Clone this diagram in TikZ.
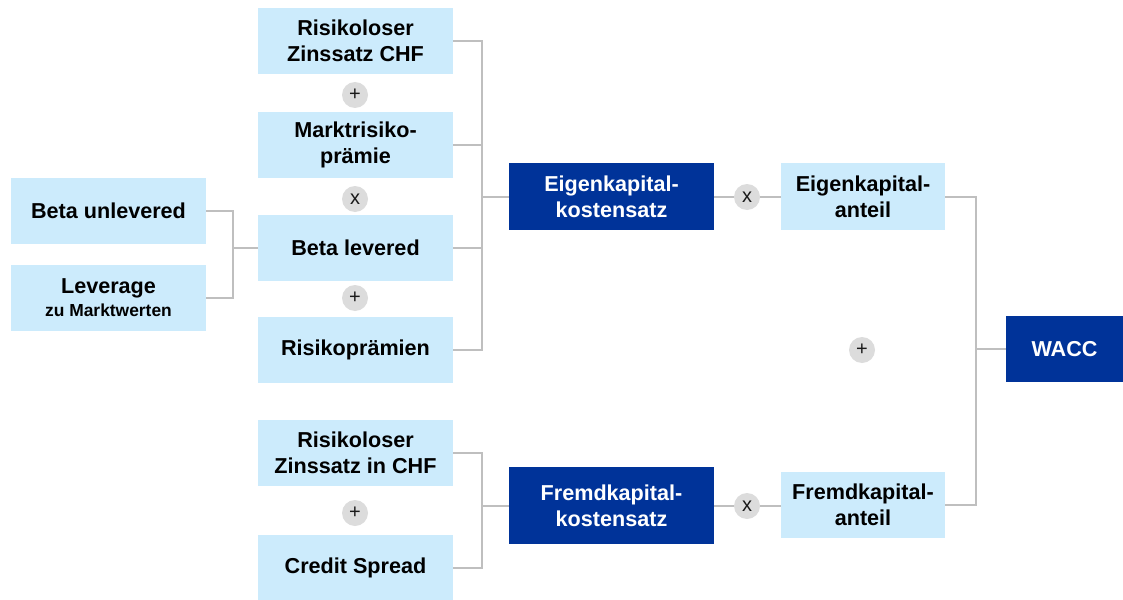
\documentclass[tikz,border=0pt]{standalone}
\usepackage{fontspec}
\setmainfont{Liberation Sans}
\definecolor{lblue}{HTML}{CCEBFC}
\definecolor{dblue}{HTML}{003399}
\definecolor{lgray}{HTML}{BFBFBF}
\definecolor{cgray}{HTML}{DCDCDC}
\begin{document}
\begin{tikzpicture}[x=1pt,y=-1pt,
  lbox/.style={fill=lblue, inner sep=0pt, align=center, text=black,
    font=\fontsize{21.6}{26}\selectfont\bfseries},
  dbox/.style={fill=dblue, inner sep=0pt, align=center, text=white,
    font=\fontsize{21.6}{26}\selectfont\bfseries},
  opc/.style={circle, fill=cgray, minimum size=26pt, inner sep=0pt,
    font=\fontsize{20}{20}\selectfont, text=black!90,
    text height=10.4pt, text depth=0pt},
  conn/.style={draw=lgray, line width=2pt}]
\useasboundingbox (0,0) rectangle (1123,599);
% left column
\node[lbox, minimum width=195pt, minimum height=66pt] (bu) at (108.5,211) {Beta unlevered};
\node[lbox, minimum width=195pt, minimum height=66pt] (lev) at (108.5,298) {Leverage\\[-3pt]{\fontsize{17.4}{20}\selectfont zu Marktwerten}};
% second column
\node[lbox, minimum width=195pt, minimum height=66pt] (rz) at (355.5,41) {Risikoloser\\Zinssatz CHF};
\node[lbox, minimum width=195pt, minimum height=66pt] (mr) at (355.5,145) {Marktrisiko-\\prämie};
\node[lbox, minimum width=195pt, minimum height=66pt] (bl) at (355.5,248) {Beta levered};
\node[lbox, minimum width=195pt, minimum height=66pt] (rp) at (355.5,350) {Risikoprämien};
\node[lbox, minimum width=195pt, minimum height=66pt] (rzf) at (355.5,453) {Risikoloser\\Zinssatz in CHF};
\node[lbox, minimum width=195pt, minimum height=66pt] (cs) at (355.5,568) {Credit Spread};
% operators column 2
\node[opc] (o1) at (355,95) {+};
\node[opc] (o2) at (355,199) {x};
\node[opc] (o3) at (355,298) {+};
\node[opc] (o4) at (355,513) {+};
% third column
\node[dbox, minimum width=205pt, minimum height=67pt] (ek) at (611.5,196.5) {Eigenkapital-\\kostensatz};
\node[dbox, minimum width=205pt, minimum height=77pt] (fk) at (611.5,505.5) {Fremdkapital-\\kostensatz};
\node[opc] (o5) at (747,197) {x};
\node[opc] (o6) at (747,506) {x};
% fourth column
\node[lbox, minimum width=164pt, minimum height=67pt] (eka) at (863,196.5) {Eigenkapital-\\anteil};
\node[lbox, minimum width=164pt, minimum height=66pt] (fka) at (863,505) {Fremdkapital-\\anteil};
\node[opc] (o7) at (862,350) {+};
% WACC
\node[dbox, minimum width=117pt, minimum height=66pt] (wacc) at (1064.5,349) {WACC};
% junctions
\coordinate (j1) at (233,248);
\coordinate (j2) at (482,196.5);
\coordinate (j3) at (482,505.5);
\coordinate (j4) at (976,349);
% connectors
\draw[conn] (bu.east) -| (j1) |- (lev.east);
\draw[conn] (j1) -- (bl.west);
\draw[conn] (rz.east) -| (j2) |- (rp.east);
\draw[conn] (mr.east) -| (j2);
\draw[conn] (bl.east) -| (j2);
\draw[conn] (j2) -- (ek.west);
\draw[conn] (rzf.east) -| (j3) |- (cs.east);
\draw[conn] (j3) -- (fk.west);
\draw[conn] (ek.east |- o5) -- (o5);
\draw[conn] (o5) -- (eka.west |- o5);
\draw[conn] (fk.east |- o6) -- (o6);
\draw[conn] (o6) -- (fka.west |- o6);
\draw[conn] (eka.east) -| (j4) |- (fka.east);
\draw[conn] (j4) -- (wacc.west);
\end{tikzpicture}
\end{document}
